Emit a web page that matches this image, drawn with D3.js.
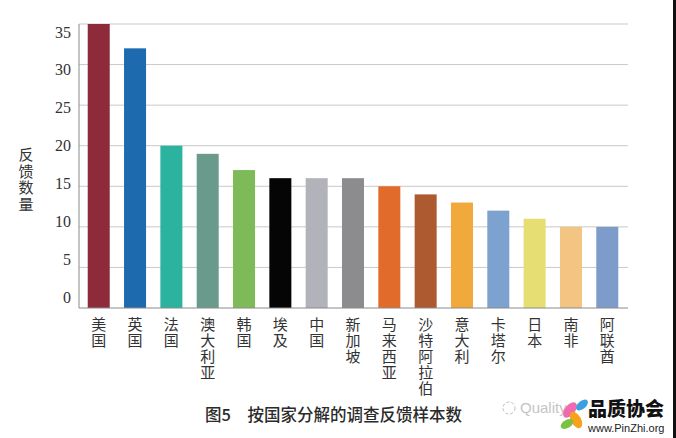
<!DOCTYPE html>
<html><head><meta charset="utf-8">
<script src="https://cdn.jsdelivr.net/npm/d3@7/dist/d3.min.js"></script>
<style>html,body{margin:0;padding:0;background:#fff;}svg{display:block;}</style>
</head><body>
<svg id="c" width="676" height="438"></svg>
<script>
const categories = ["美国","英国","法国","澳大利亚","韩国","埃及","中国","新加坡","马来西亚","沙特阿拉伯","意大利","卡塔尔","日本","南非","阿联酋"];
const values = [35,32,20,19,17,16,16,16,15,14,13,12,11,10,10];
const colors = ["#8E2B3B","#1E6AAE","#2BB3A0","#6A9A8C","#7EBB58","#050505","#B2B3BA","#8C8C8E","#E06B2B","#AE5A30","#F2A93C","#7DA2CF","#E6DE72","#F3C482","#7E9CCB"];
const yTicks = [0,5,10,15,20,25,30,35];
const yTitle = "反馈数量";
const caption = "图5　按国家分解的调查反馈样本数";

const svg = d3.select("#c");
const x = d3.scaleBand().domain(categories).range([79, 627]).paddingInner(0.394).paddingOuter(0.24);
const y = d3.scaleLinear().domain([0,35]).range([308, 24]);
const yLab = d3.scaleLinear().domain([0,35]).range([297, 32]);

// gridlines
svg.append("g").selectAll("line").data(yTicks.filter(d=>d>0)).join("line")
  .attr("x1", 79).attr("x2", 628).attr("y1", d=>y(d)).attr("y2", d=>y(d))
  .attr("stroke", "#c9c9c9").attr("stroke-width", 1);

// bars
svg.append("g").selectAll("rect").data(values).join("rect")
  .attr("x", (d,i)=>x(categories[i])).attr("width", x.bandwidth())
  .attr("y", d=>y(d)).attr("height", d=>y(0)-y(d))
  .attr("fill", (d,i)=>colors[i]);

// axes lines
svg.append("line").attr("x1",79).attr("x2",79).attr("y1",24).attr("y2",308).attr("stroke","#8a8a8a");
svg.append("line").attr("x1",79).attr("x2",628).attr("y1",308).attr("y2",308).attr("stroke","#8a8a8a");

// y tick labels
const ya = svg.append("g").attr("transform","translate(71,0)")
  .call(d3.axisLeft(yLab).tickValues(yTicks).tickSize(0).tickPadding(0));
ya.select(".domain").remove();
ya.selectAll("text").attr("font-family","'Liberation Serif','DejaVu Serif',serif").attr("font-size",16).attr("fill","#333");

// x labels vertical
svg.append("g").selectAll("text").data(categories).join("text")
  .attr("x", d=>x(d)+x.bandwidth()/2).attr("y", 317)
  .attr("writing-mode","vertical-rl").attr("letter-spacing",1)
  .attr("font-family","'Noto Sans CJK SC',sans-serif").attr("font-size",15).attr("fill","#333")
  .text(d=>d);

// y title
svg.append("text").attr("x",26).attr("y",147)
  .attr("writing-mode","vertical-rl").attr("letter-spacing",1.5)
  .attr("font-family","'Noto Sans CJK SC',sans-serif").attr("font-size",15).attr("fill","#333")
  .text(yTitle);

// caption
svg.append("text").attr("x",205).attr("y",421)
  .attr("font-family","'Noto Sans CJK SC',sans-serif").attr("font-size",16.5).attr("font-weight",500)
  .attr("fill","#2b2b2b").text(caption);

// watermark
const wm = svg.append("g");
wm.append("circle").attr("cx",509).attr("cy",408).attr("r",6).attr("fill","none").attr("stroke","#bbb").attr("stroke-dasharray","3,2");
wm.append("text").attr("x",520).attr("y",413).attr("font-family","Arial,'Liberation Sans',sans-serif").attr("font-size",15).attr("fill","#c4c4c4").text("Quality");
wm.append("ellipse").attr("cx",570).attr("cy",410).attr("rx",5).attr("ry",9).attr("transform","rotate(40,570,410)").attr("fill","#f06ab0");
wm.append("ellipse").attr("cx",576).attr("cy",420).attr("rx",5).attr("ry",9).attr("transform","rotate(-30,576,420)").attr("fill","#f7a21b");
wm.append("ellipse").attr("cx",567).attr("cy",424).attr("rx",4).attr("ry",7).attr("transform","rotate(60,567,424)").attr("fill","#7cc242");
wm.append("ellipse").attr("cx",582).attr("cy",405).attr("rx",4).attr("ry",7).attr("transform","rotate(50,582,405)").attr("fill","#3aa0e0");
wm.append("text").attr("x",588).attr("y",416).attr("font-family","'Noto Sans CJK SC',sans-serif").attr("font-size",19).attr("font-weight",900).attr("fill","#111").text("品质协会");
wm.append("text").attr("x",588).attr("y",432).attr("font-family","Arial,'Liberation Sans',sans-serif").attr("font-size",11).attr("fill","#222").text("www.PinZhi.org");

// right edge strip
svg.append("rect").attr("x",673).attr("y",0).attr("width",3).attr("height",438).attr("fill","#111");
</script>
</body></html>
